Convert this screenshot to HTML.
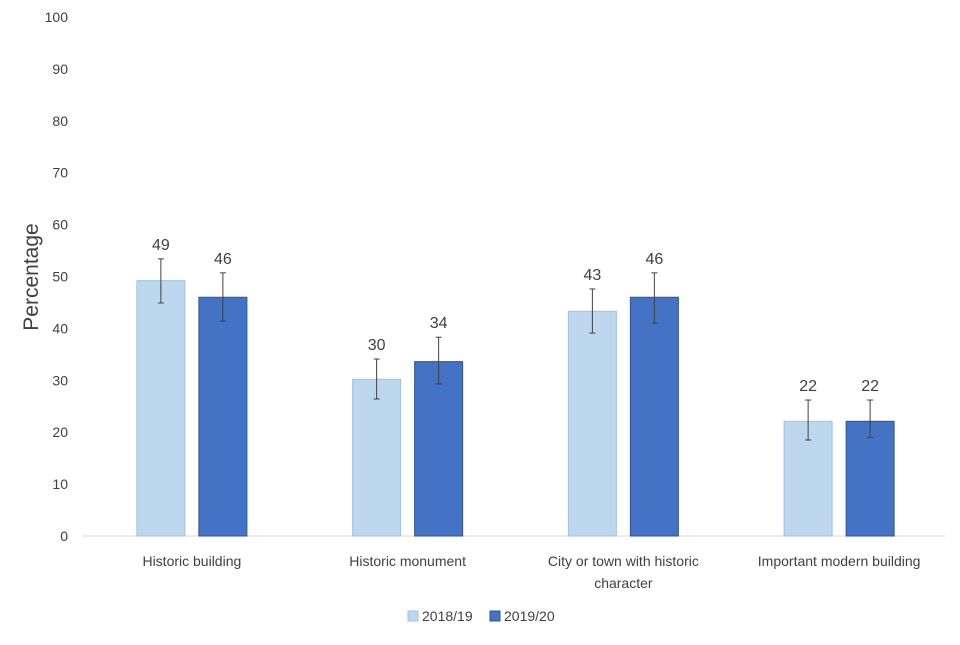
<!DOCTYPE html>
<html><head><meta charset="utf-8"><style>
body{margin:0;background:#fff;}
svg text{font-family:"Liberation Sans",sans-serif;fill:#404040;}
</style></head><body>
<svg id="chart" width="960" height="640" xmlns="http://www.w3.org/2000/svg">
<g id="axes"></g><g id="bars"></g><g id="legend"></g>
</svg>
<script>
const categories=["Historic building","Historic monument","City or town with historic character","Important modern building"];
const values1819=[49.2,30.2,43.3,22.1];
const values1920=[46.0,33.6,46.0,22.1];
const labels1819=["49","30","43","22"];
const labels1920=["46","34","46","22"];
const low1819=[44.9,26.4,39.1,18.5];
const high1819=[53.4,34.1,47.6,26.2];
const low1920=[41.4,29.3,41.0,19.0];
const high1920=[50.7,38.3,50.7,26.2];
const yTicks=[0,10,20,30,40,50,60,70,80,90,100];

const NS="http://www.w3.org/2000/svg";
const y0=536,y100=17,xL=84,xR=947;
function y(v){return y0-(y0-y100)*v/100;}
const band=(xR-xL)/categories.length;
function xc(i){return xL+band*(i+0.5);}
function mk(tag,attrs,parent,text){const e=document.createElementNS(NS,tag);for(const k in attrs)e.setAttribute(k,attrs[k]);if(text!==undefined)e.textContent=text;parent.appendChild(e);return e;}
const axes=document.getElementById('axes'),bars=document.getElementById('bars'),legend=document.getElementById('legend');

yTicks.forEach(t=>{
  const e=mk('text',{x:68,y:y(t)+5,'text-anchor':'end','font-size':14},axes,String(t));
  
  
});
const ax=mk('line',{x1:82,x2:945,y1:y0,y2:y0,stroke:'#d9d9d9','stroke-width':1},axes);


const yt=mk('text',{x:0,y:0,transform:'translate(38,277) rotate(-90)','text-anchor':'middle','font-size':21},axes,'Percentage');



const bw=48;
function drawBar(i,v,lo,hi,lab,cx,fill,stroke,name){
  const b=mk('rect',{x:cx-bw/2,y:y(v),width:bw,height:y0-y(v),fill:fill,stroke:stroke,'stroke-width':1},bars);
  
  
  const eb=mk('g',{stroke:'#404040','stroke-width':1},bars);
  
  
  mk('line',{x1:cx,x2:cx,y1:y(hi),y2:y(lo)},eb);
  mk('line',{x1:cx-3,x2:cx+3,y1:y(hi),y2:y(hi)},eb);
  mk('line',{x1:cx-3,x2:cx+3,y1:y(lo),y2:y(lo)},eb);
  const t=mk('text',{x:cx,y:y(hi)-9,'text-anchor':'middle','font-size':16},bars,lab);
  
  
}
categories.forEach((c,i)=>{
  const cx=xc(i);
  drawBar(i,values1819[i],low1819[i],high1819[i],labels1819[i],cx-31,'#bdd7ee','#9dc3e6','bar-2018-19');
  drawBar(i,values1920[i],low1920[i],high1920[i],labels1920[i],cx+31,'#4472c4','#2f5597','bar-2019-20');
  let lines=[c];
  if(c.length>30){lines=["City or town with historic","character"];}
  lines.forEach((ln,k)=>{
    const t=mk('text',{x:cx,y:566+k*22,'text-anchor':'middle','font-size':14},axes,ln);
    
    
  });
});
[["2018/19","#bdd7ee","#9dc3e6",408],["2019/20","#4472c4","#2f5597",490]].forEach(s=>{
  const g=mk('g',{},legend);
  
  
  mk('rect',{x:s[3],y:611,width:10,height:10,fill:s[1],stroke:s[2]},g);
  mk('text',{x:s[3]+14,y:621,'font-size':14},g,s[0]);
});
</script>
</body></html>
